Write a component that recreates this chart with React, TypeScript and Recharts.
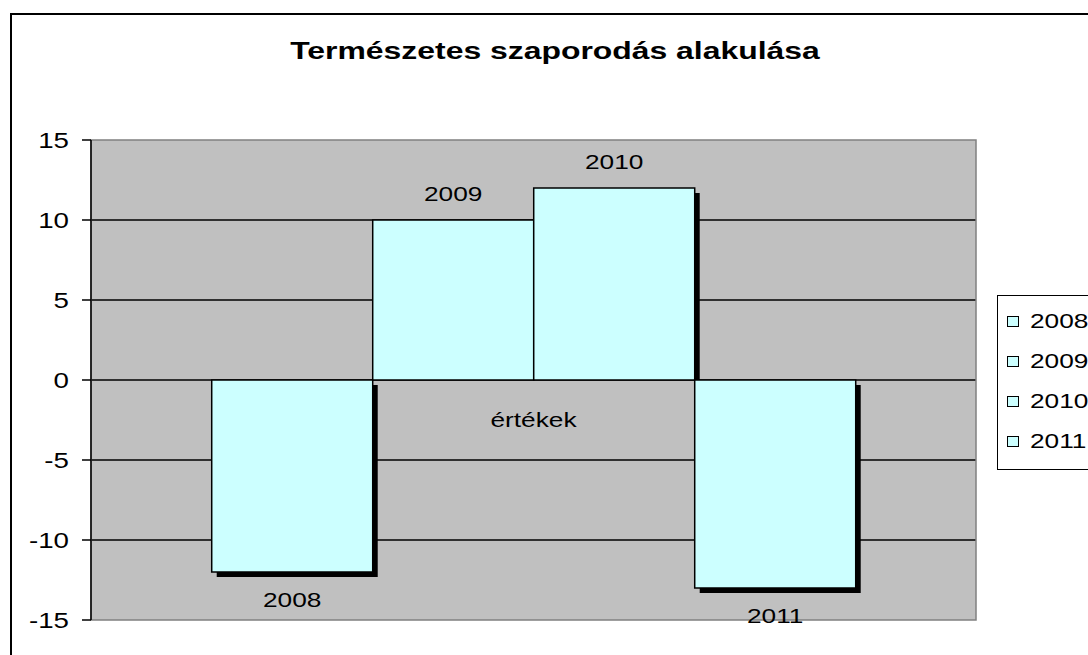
import React from "react";
import {
  BarChart,
  Bar,
  XAxis,
  YAxis,
  CartesianGrid,
  Legend,
  LabelList,
  ReferenceArea,
} from "recharts";

// chart values
const title = "Természetes szaporodás alakulása";
const categories = ["értékek"];
const seriesNames = ["2008", "2009", "2010", "2011"];
const seriesValues = [[-12], [10], [12], [-13]];
const yTicks = [-15, -10, -5, 0, 5, 10, 15];
const gridValues = [-10, -5, 0, 5, 10];

const W = 1088;
const H = 655;
const X_AXIS_H = 30;
const MARGIN = { top: 140, right: 112, bottom: 5, left: 0 };
const Y_MIN = -15;
const Y_MAX = 15;
const PLOT_H = H - MARGIN.top - MARGIN.bottom - X_AXIS_H;
const ZERO_Y = MARGIN.top + (PLOT_H * (Y_MAX - 0)) / (Y_MAX - Y_MIN);
const FONT = '"Liberation Sans", Arial, sans-serif';
const SX = 1.25; // the source picture is stretched sideways
const BAR_FILL = "#CCFFFF";
const SHADOW = 5;

const data = categories.map((name, i) => {
  const row: Record<string, string | number> = { name };
  seriesNames.forEach((s, j) => {
    row[s] = seriesValues[j][i];
  });
  return row;
});

function StretchText({ x, y, anchor = "middle", size = 21, bold = false, sx = SX, children }: any) {
  return (
    <text
      transform={`translate(${x},${y}) scale(${sx},1)`}
      textAnchor={anchor}
      fontFamily={FONT}
      fontSize={size}
      fontWeight={bold ? 700 : 400}
      fill="#000"
    >
      {children}
    </text>
  );
}

const norm = (y: number, height: number) =>
  height < 0 ? { top: y + height, h: -height } : { top: y, h: height };

function ShadowBar({ x, y, width, height, neg }: any) {
  const { top, h } = norm(y, height);
  return (
    <g>
      <rect
        x={x + SHADOW}
        y={top + SHADOW}
        width={width}
        height={neg ? h : Math.max(h - SHADOW, 0)}
        fill="#000"
      />
      <rect x={x} y={top} width={width} height={h} fill={BAR_FILL} stroke="#000" strokeWidth={1.5} />
    </g>
  );
}

function BarName({ x, y, width, height, name, neg }: any) {
  const { top, h } = norm(y, height);
  const cy = neg ? top + h + 27 : top - 27;
  return (
    <StretchText x={x + width / 2} y={cy + 7.5}>
      {name}
    </StretchText>
  );
}

function ValueTick({ x, y, payload }: any) {
  return (
    <StretchText x={x} y={y + 7.5} anchor="end" size={22} sx={1.26}>
      {payload.value}
    </StretchText>
  );
}

// category name sits under the zero line, as in the original
function CategoryTick({ x, payload }: any) {
  return (
    <StretchText x={x} y={ZERO_Y + 47}>
      {payload.value}
    </StretchText>
  );
}

function LegendBox() {
  return (
    <div
      style={{
        border: "1.5px solid #000",
        background: "#fff",
        padding: "5px 60px 8px 9px",
        fontFamily: FONT,
        fontSize: 21,
        color: "#000",
      }}
    >
      {seriesNames.map((s) => (
        <div key={s} style={{ display: "flex", alignItems: "center", height: 40 }}>
          <span
            style={{
              width: 10,
              height: 9,
              border: "1px solid #000",
              background: BAR_FILL,
              marginRight: 11,
              flex: "none",
            }}
          />
          <span style={{ display: "inline-block", transform: `scaleX(${SX})`, transformOrigin: "left center" }}>
            {s}
          </span>
        </div>
      ))}
    </div>
  );
}

export default function App() {
  return (
    <div
      style={{
        position: "fixed",
        left: 0,
        top: 0,
        width: W,
        height: H,
        overflow: "hidden",
        background: "#fff",
      }}
    >
      <div
        style={{
          position: "absolute",
          left: 10,
          top: 13,
          width: 1120,
          height: 720,
          border: "2px solid #000",
        }}
      />
      <div style={{ position: "absolute", left: 0, top: 0 }}>
        <BarChart
          width={W}
          height={H}
          data={data}
          margin={MARGIN}
          barGap={0}
          barCategoryGap="13.64%"
        >
          <StretchText x={555} y={59} size={24} bold sx={1.33}>
            {title}
          </StretchText>
          <CartesianGrid
            vertical={false}
            horizontalValues={gridValues}
            stroke="#000"
            strokeWidth={1.3}
            fill="#C0C0C0"
            fillOpacity={1}
          />
          <ReferenceArea y1={Y_MIN} y2={Y_MAX} fill="none" stroke="#808080" strokeWidth={1.5} />
          <XAxis
            dataKey="name"
            height={X_AXIS_H}
            interval={0}
            axisLine={false}
            tickLine={false}
            tick={(p: any) => <CategoryTick {...p} />}
          />
          <YAxis
            domain={[Y_MIN, Y_MAX]}
            ticks={yTicks}
            interval={0}
            width={91}
            tickSize={9}
            tickMargin={13}
            allowDataOverflow
            axisLine={{ stroke: "#000", strokeWidth: 1.5 }}
            tickLine={{ stroke: "#000", strokeWidth: 1.5 }}
            tick={<ValueTick />}
          />
          <Legend
            layout="vertical"
            align="center"
            verticalAlign="middle"
            width={150}
            wrapperStyle={{ left: 997, top: 295 }}
            content={() => <LegendBox />}
          />
          {seriesNames.map((s, j) => {
            const neg = seriesValues[j][0] < 0;
            return (
              <Bar
                key={s}
                dataKey={s}
                isAnimationActive={false}
                shape={(p: any) => <ShadowBar {...p} neg={neg} />}
              >
                <LabelList
                  dataKey={s}
                  content={(p: any) => <BarName {...p} name={s} neg={neg} />}
                />
              </Bar>
            );
          })}
        </BarChart>
      </div>
    </div>
  );
}
